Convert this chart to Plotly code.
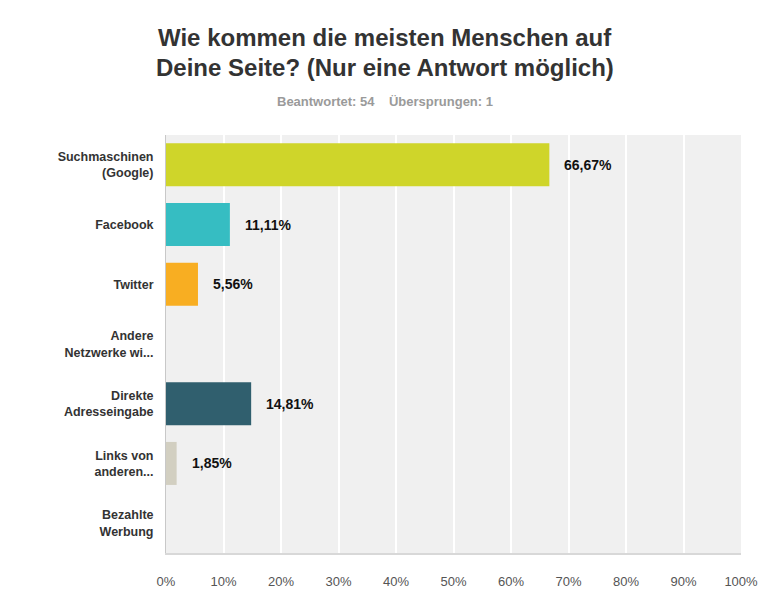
import plotly.graph_objects as go

categories = ["Suchmaschinen<br>(Google)", "Facebook", "Twitter", "Andere<br>Netzwerke wi...",
              "Direkte<br>Adresseingabe", "Links von<br>anderen...", "Bezahlte<br>Werbung"]
values = [66.67, 11.11, 5.56, 0, 14.81, 1.85, 0]
value_labels = ["66,67%", "11,11%", "5,56%", "", "14,81%", "1,85%", ""]
colors = ["#cfd52a", "#36bdc2", "#f8ae22", "#8c8c8c", "#305f6e", "#d2cfc1", "#8c8c8c"]
tick_vals = [0, 10, 20, 30, 40, 50, 60, 70, 80, 90, 100]
tick_text = ["0%", "10%", "20%", "30%", "40%", "50%", "60%", "70%", "80%", "90%", "100%"]
title_lines = ["Wie kommen die meisten Menschen auf", "Deine Seite? (Nur eine Antwort möglich)"]
subtitle = "Beantwortet: 54    Übersprungen: 1"

font_family = "Liberation Sans, Arial, sans-serif"

fig = go.Figure(go.Bar(
    y=categories, x=values, orientation="h",
    marker=dict(color=colors, line=dict(width=0)),
    hoverinfo="skip",
))

annotations = []
for cat, val, lab in zip(categories, values, value_labels):
    if lab:
        annotations.append(dict(
            x=val, y=cat, xref="x", yref="y", text="<b>" + lab + "</b>",
            xanchor="left", yanchor="middle", xshift=13, showarrow=False,
            font=dict(family=font_family, size=14, color="#111111"),
        ))

title_center_x = 0.381
for line, shift in zip(title_lines, [98, 68]):
    annotations.append(dict(
        text="<b>" + line + "</b>", xref="paper", yref="paper",
        x=title_center_x, y=1.0, xanchor="center", yanchor="middle", yshift=shift,
        showarrow=False, font=dict(family=font_family, size=24, color="#333333"),
    ))
annotations.append(dict(
    text="<b>" + subtitle + "</b>", xref="paper", yref="paper",
    x=title_center_x, y=1.0, xanchor="center", yanchor="middle", yshift=34,
    showarrow=False, font=dict(family=font_family, size=13, color="#9a9a9a"),
))

fig.update_layout(
    width=762, height=605,
    margin=dict(l=158, r=29, t=127, b=60),
    paper_bgcolor="white", plot_bgcolor="#f0f0f0",
    bargap=0.28, showlegend=False,
    font=dict(family=font_family),
    annotations=annotations,
    xaxis=dict(
        range=[0, 100], tickvals=tick_vals, ticktext=tick_text,
        showgrid=True, gridcolor="white", gridwidth=2, zeroline=False,
        showline=True, linecolor="#d8d8d8", linewidth=2,
        tickfont=dict(family=font_family, size=13, color="#555555"),
        ticks="", ticklabelstandoff=15, fixedrange=True,
    ),
    yaxis=dict(
        autorange="reversed", showgrid=False, zeroline=False,
        showline=True, linecolor="#c8c8c8", linewidth=1,
        tickfont=dict(family=font_family, size=12.5, color="#333333"),
        ticks="", ticklabelstandoff=9, fixedrange=True,
        tickvals=categories, ticktext=["<b>" + c + "</b>" for c in categories],
    ),
)

fig.write_html("out.html")
